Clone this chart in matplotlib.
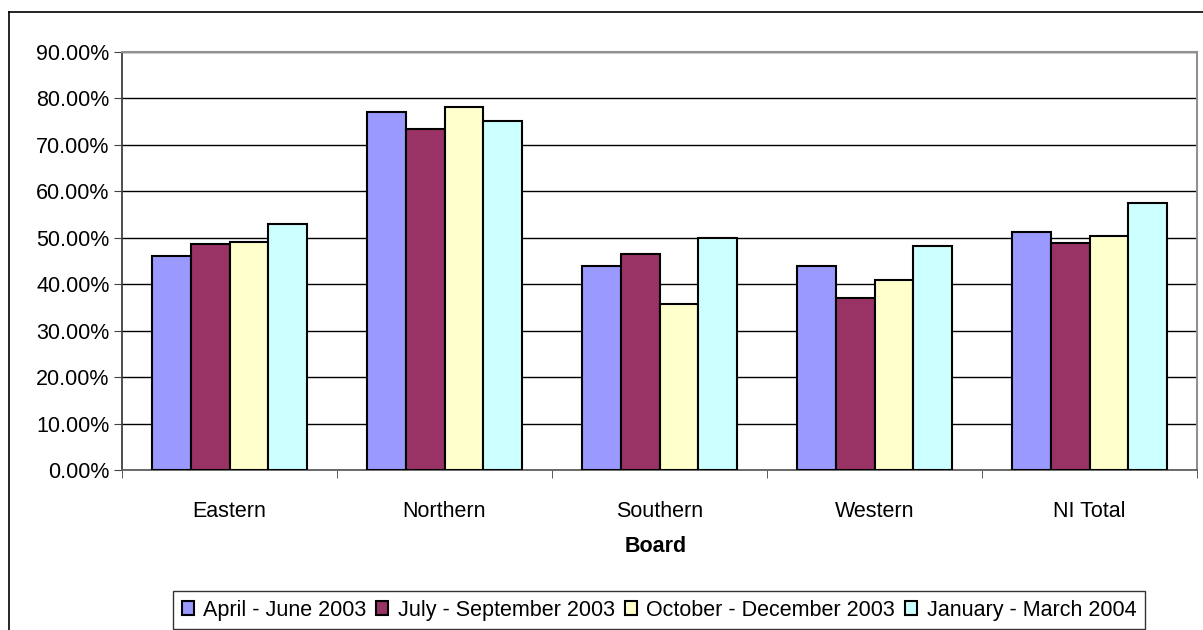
import matplotlib.pyplot as plt
import numpy as np
from matplotlib.lines import Line2D
from matplotlib.ticker import FuncFormatter, FixedLocator

plt.rcParams["font.family"] = ["Liberation Sans", "DejaVu Sans"]

# data
boards = ["Eastern", "Northern", "Southern", "Western", "NI Total"]
periods = [
    "April - June 2003",
    "July - September 2003",
    "October - December 2003",
    "January - March 2004",
]
apr_jun = [46.0, 77.0, 43.9, 43.9, 51.3]
jul_sep = [48.7, 73.5, 46.5, 37.0, 48.8]
oct_dec = [49.1, 78.2, 35.7, 40.9, 50.4]
jan_mar = [53.0, 75.2, 50.0, 48.3, 57.4]
colors = ["#9999FF", "#993366", "#FFFFCC", "#CCFFFF"]

FS = 15.5
W, H = 1203, 630
fig = plt.figure(figsize=(W / 100, H / 100), dpi=100)

# outer chart border (cut off at right/bottom)
fig.add_artist(Line2D([9 / W, 1], [1 - 12 / H, 1 - 12 / H], color="black", lw=1.2))
fig.add_artist(Line2D([9 / W, 9 / W], [0, 1 - 12 / H], color="black", lw=1.2))

left, right, top, bottom = 122, 1197, 52, 470
ax = fig.add_axes([left / W, 1 - bottom / H, (right - left) / W, (bottom - top) / H])

x = np.arange(len(boards))
bw = 0.18
series = [apr_jun, jul_sep, oct_dec, jan_mar]
for i, vals in enumerate(series):
    ax.bar(x + (i - 1.5) * bw, np.array(vals) / 100, bw, color=colors[i],
           edgecolor="black", linewidth=1.5, label=periods[i], zorder=3)

ax.set_xlim(-0.5, len(boards) - 0.5)
ax.set_ylim(0, 0.9)
ax.set_yticks(np.arange(0, 0.91, 0.1))
ax.yaxis.set_major_formatter(FuncFormatter(lambda v, p: f"{v * 100:.2f}%"))
ax.grid(axis="y", color="black", lw=1, zorder=0)

ax.set_xticks(x)
ax.set_xticklabels(boards)
ax.xaxis.set_minor_locator(FixedLocator(np.arange(-0.5, len(boards), 1.0)))
ax.tick_params(axis="x", which="major", length=0, pad=22, labelsize=FS)
ax.tick_params(axis="x", which="minor", length=6, color="#404040", direction="out")
ax.tick_params(axis="y", length=6, labelsize=FS, color="#404040", pad=3)

for s in ["top", "right"]:
    ax.spines[s].set_color("#909090")
    ax.spines[s].set_linewidth(1.5)
ax.spines["left"].set_color("#404040")
ax.spines["bottom"].set_color("#606060")
ax.spines["left"].set_linewidth(1.3)
ax.spines["bottom"].set_linewidth(1.3)

fig.text((left + right) / 2 / W - 0.003, 1 - 547 / H, "Board", fontsize=FS,
         fontweight="bold", ha="center", va="center")

leg = fig.legend(loc="upper left", bbox_to_anchor=(173 / W, 1 - 591 / H), ncol=4,
                 fontsize=FS, frameon=True, fancybox=False, edgecolor="black",
                 handlelength=0.56, handleheight=0.56, handletextpad=0.45,
                 columnspacing=0.45, borderpad=0.4, borderaxespad=0)
leg.get_frame().set_linewidth(1.0)

fig.savefig("out.png", dpi=100)
